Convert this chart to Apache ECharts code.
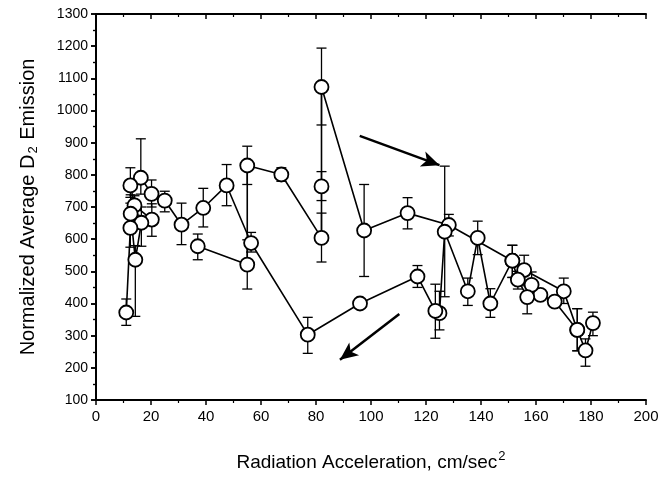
<!DOCTYPE html>
<html><head><meta charset="utf-8">
<script src="https://cdn.jsdelivr.net/npm/echarts@6/dist/echarts.min.js"></script>
<style>html,body{margin:0;padding:0;background:#fff}#c{width:662px;height:483px}</style>
</head><body><div id="c"></div>
<script>
// Upper branch (increasing acceleration)
const upX  = [37, 55, 55, 67.4, 82, 82, 82, 97.5, 113.3, 128.3, 151.4, 155.7, 170.1, 175, 178, 180.7];
const upY  = [578, 521, 829, 801, 604, 764, 1073, 627, 681, 644, 533, 504, 438, 318, 254, 339];
const upHi = [616, 598, 889, 822, 681, 810, 1194, 770, 729, 677, 581, 550, 479, 384, 290, 373];
const upLo = [536, 445, 770, 780, 529, 720, 955, 484, 632, 610, 481, 460, 400, 253, 205, 300];
// Lower branch (decreasing acceleration)
const dnX  = [175, 166.8, 161.6, 158.4, 156.8, 153.4, 151.4, 143.4, 138.8, 135.2, 126.8, 124.9, 123.4, 116.9, 96, 77, 56.4, 47.5, 39, 31.1, 25, 20.2, 16.3, 12.5, 14, 20.3, 16.5, 14.3, 12.6, 12.5, 11];
const dnY  = [318, 406, 427, 458, 420, 474, 533, 400, 604, 438, 623, 370, 377, 484, 400, 303, 588, 767, 697, 645, 720, 741, 791, 767, 705, 661, 651, 536, 679, 635, 372];
const dnHi = [384, 406, 427, 498, 455, 500, 581, 446, 656, 479, 827, 438, 460, 518, 400, 357, 621, 832, 758, 712, 749, 784, 912, 822, 735, 710, 700, 580, 738, 712, 414];
const dnLo = [253, 406, 427, 420, 368, 445, 481, 357, 552, 394, 421, 318, 292, 450, 400, 245, 560, 704, 638, 583, 685, 700, 740, 730, 675, 609, 578, 360, 620, 575, 332];
// Arrows [x0, y0, x1, y1]
const arrowUp = [95.9, 921, 124.9, 830];
const arrowDn = [110.3, 367, 88.7, 225];
const xTicks = {min: 0, max: 200, step: 20};
const yTicks = {min: 100, max: 1300, step: 100};

const pts = (xs, ys) => xs.map((x, i) => [x, ys[i]]);
const errs = (xs, hi, lo) => xs.map((x, i) => [x, lo[i], hi[i]]);
const errData = errs(upX, upHi, upLo).concat(errs(dnX, dnHi, dnLo)).filter(d => d[1] !== d[2]);

const chart = echarts.init(document.getElementById('c'), null, {renderer: 'canvas'});
const font = "'Liberation Sans', Arial, sans-serif";
const baseAxis = {
  axisLine: {lineStyle: {color: '#000', width: 2}},
  splitLine: {show: false}
};
const lineStyle = {color: '#000', width: 1.6};
const sym = {color: '#fff', borderColor: '#000', borderWidth: 1.8};
const plain = v => String(v);

chart.setOption({
  animation: false,
  backgroundColor: '#fff',
  grid: {left: 96, right: 16, top: 14, bottom: 83},
  xAxis: [
    Object.assign({}, baseAxis, {
      type: 'value', min: xTicks.min, max: xTicks.max, interval: xTicks.step,
      axisTick: {show: true, length: 5, lineStyle: {color: '#000', width: 1.5}},
      minorTick: {show: true, splitNumber: 2, length: 3, lineStyle: {color: '#000', width: 1.2}},
      axisLabel: {color: '#000', fontSize: 15, fontFamily: font, margin: 9, formatter: plain},
      name: 'Radiation Acceleration, cm/sec{sup|2}', nameLocation: 'middle', nameGap: 50,
      nameTextStyle: {color: '#000', fontSize: 19, fontFamily: font,
        rich: {sup: {fontSize: 13, verticalAlign: 'top', padding: [0, 0, 13, 1], fontFamily: font, color: '#000'}}}
    }),
    Object.assign({}, baseAxis, {
      type: 'value', position: 'top', min: xTicks.min, max: xTicks.max, interval: xTicks.step,
      axisTick: {show: true, inside: true, length: 5, lineStyle: {color: '#000', width: 1.5}},
      minorTick: {show: true, splitNumber: 2, length: 3, lineStyle: {color: '#000', width: 1.2}},
      axisLabel: {show: false}
    })
  ],
  yAxis: [
    Object.assign({}, baseAxis, {
      type: 'value', min: yTicks.min, max: yTicks.max, interval: yTicks.step,
      axisTick: {show: true, length: 5, lineStyle: {color: '#000', width: 1.5}},
      minorTick: {show: true, splitNumber: 2, length: 3, lineStyle: {color: '#000', width: 1.2}},
      axisLabel: {color: '#000', fontSize: 14, fontFamily: font, margin: 8, formatter: plain},
      name: 'Normalized Average D{sub|2} Emission', nameLocation: 'middle', nameGap: 56, nameRotate: 90,
      nameTextStyle: {color: '#000', fontSize: 20, fontFamily: font,
        rich: {sub: {fontSize: 13, verticalAlign: 'bottom', padding: [11, 1, 0, 1], fontFamily: font, color: '#000'}}}
    }),
    Object.assign({}, baseAxis, {
      type: 'value', position: 'right', min: yTicks.min, max: yTicks.max, interval: yTicks.step,
      axisTick: {show: true, inside: true, length: 5, lineStyle: {color: '#000', width: 1.5}},
      minorTick: {show: true, splitNumber: 2, length: 3, lineStyle: {color: '#000', width: 1.2}},
      axisLabel: {show: false}
    })
  ],
  series: [
    {
      type: 'custom', z: 1, data: errData, silent: true,
      renderItem: function (params, api) {
        const x = api.value(0);
        const lo = api.coord([x, api.value(1)]);
        const hi = api.coord([x, api.value(2)]);
        const w = 5;
        const st = {stroke: '#000', lineWidth: 1.3};
        return {type: 'group', children: [
          {type: 'line', shape: {x1: lo[0], y1: lo[1], x2: hi[0], y2: hi[1]}, style: st},
          {type: 'line', shape: {x1: lo[0] - w, y1: lo[1], x2: lo[0] + w, y2: lo[1]}, style: st},
          {type: 'line', shape: {x1: hi[0] - w, y1: hi[1], x2: hi[0] + w, y2: hi[1]}, style: st}
        ]};
      }
    },
    {
      type: 'line', z: 3, data: pts(upX, upY), symbol: 'circle', symbolSize: 14,
      showAllSymbol: true, lineStyle: lineStyle, itemStyle: sym,
      markLine: {
        silent: true, symbol: ['none', 'arrow'], symbolSize: [12, 18],
        lineStyle: {color: '#000', width: 2.5, type: 'solid'}, label: {show: false},
        data: [
          [{coord: [arrowUp[0], arrowUp[1]]}, {coord: [arrowUp[2], arrowUp[3]]}],
          [{coord: [arrowDn[0], arrowDn[1]]}, {coord: [arrowDn[2], arrowDn[3]]}]
        ]
      }
    },
    {
      type: 'line', z: 3, data: pts(dnX, dnY), symbol: 'circle', symbolSize: 14,
      showAllSymbol: true, lineStyle: lineStyle, itemStyle: sym
    }
  ]
});
</script>
</body></html>
